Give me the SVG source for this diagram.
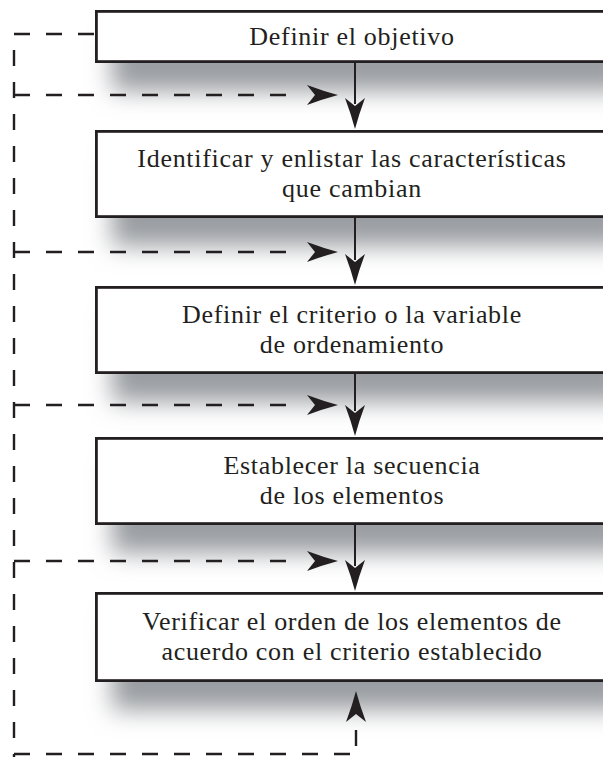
<svg xmlns="http://www.w3.org/2000/svg" width="603" height="757" viewBox="0 0 603 757">
<defs>
<style>
.box{fill:#fff;stroke:#231f20;stroke-width:2.8}
.sh{fill:#9a9da1;filter:url(#blur)}
.t{font-family:"Liberation Serif","Times New Roman",serif;font-size:26px;letter-spacing:0.7px;fill:#231f20;text-anchor:middle}
.dash{fill:none;stroke:#231f20;stroke-width:2.4;stroke-dasharray:16 16}
.solid{fill:none;stroke:#231f20;stroke-width:2}
.ah{fill:#231f20}
</style>
<filter id="blur" x="-20%" y="-60%" width="140%" height="220%"><feGaussianBlur stdDeviation="12"/></filter>
<path id="arR" d="M0,0 Q-15,-4 -31,-10 L-23,0 L-31,10 Q-15,4 0,0 Z"/>
</defs>
<g id="shadows">
<rect class="sh" x="112" y="38" width="520" height="53"/>
<rect class="sh" x="112" y="158" width="520" height="88"/>
<rect class="sh" x="112" y="314" width="520" height="88"/>
<rect class="sh" x="112" y="465" width="520" height="88"/>
<rect class="sh" x="112" y="620" width="520" height="90"/>
</g>
<g id="connectors">
<line class="dash" x1="14" y1="34" x2="95" y2="34"/>
<line class="dash" x1="14" y1="50" x2="14" y2="757"/>
<line class="dash" x1="14" y1="95" x2="287" y2="95"/>
<line class="dash" x1="14" y1="252" x2="287" y2="252"/>
<line class="dash" x1="14" y1="405" x2="287" y2="405"/>
<line class="dash" x1="14" y1="561" x2="287" y2="561"/>
<line class="dash" x1="14" y1="754" x2="350" y2="754"/>
<line class="dash" x1="356" y1="746" x2="356" y2="730"/>
<use href="#arR" class="ah" transform="translate(338,95)"/>
<use href="#arR" class="ah" transform="translate(338,252)"/>
<use href="#arR" class="ah" transform="translate(338,405)"/>
<use href="#arR" class="ah" transform="translate(338,561)"/>
<line class="solid" x1="355" y1="63" x2="355" y2="104"/>
<use href="#arR" class="ah" transform="translate(355,129) rotate(90)"/>
<line class="solid" x1="355" y1="218" x2="355" y2="260"/>
<use href="#arR" class="ah" transform="translate(355,285) rotate(90)"/>
<line class="solid" x1="355" y1="374" x2="355" y2="411"/>
<use href="#arR" class="ah" transform="translate(355,436) rotate(90)"/>
<line class="solid" x1="355" y1="525" x2="355" y2="566"/>
<use href="#arR" class="ah" transform="translate(355,591) rotate(90)"/>
<use href="#arR" class="ah" transform="translate(356,691) rotate(-90)"/>
</g>
<g id="n1">
<rect class="box" x="96.4" y="11.4" width="520" height="50.2"/>
<text class="t" x="352" y="45">Definir el objetivo</text>
</g>
<g id="n2">
<rect class="box" x="96.4" y="131.4" width="520" height="85.2"/>
<text class="t" x="352" y="167">Identificar y enlistar las características</text>
<text class="t" x="352" y="197">que cambian</text>
</g>
<g id="n3">
<rect class="box" x="96.4" y="287.4" width="520" height="85.2"/>
<text class="t" x="352" y="323">Definir el criterio o la variable</text>
<text class="t" x="352" y="353">de ordenamiento</text>
</g>
<g id="n4">
<rect class="box" x="96.4" y="438.4" width="520" height="85.2"/>
<text class="t" x="352" y="474">Establecer la secuencia</text>
<text class="t" x="352" y="504">de los elementos</text>
</g>
<g id="n5">
<rect class="box" x="96.4" y="593.4" width="520" height="87.2"/>
<text class="t" x="352" y="630">Verificar el orden de los elementos de</text>
<text class="t" x="352" y="660">acuerdo con el criterio establecido</text>
</g>
</svg>
